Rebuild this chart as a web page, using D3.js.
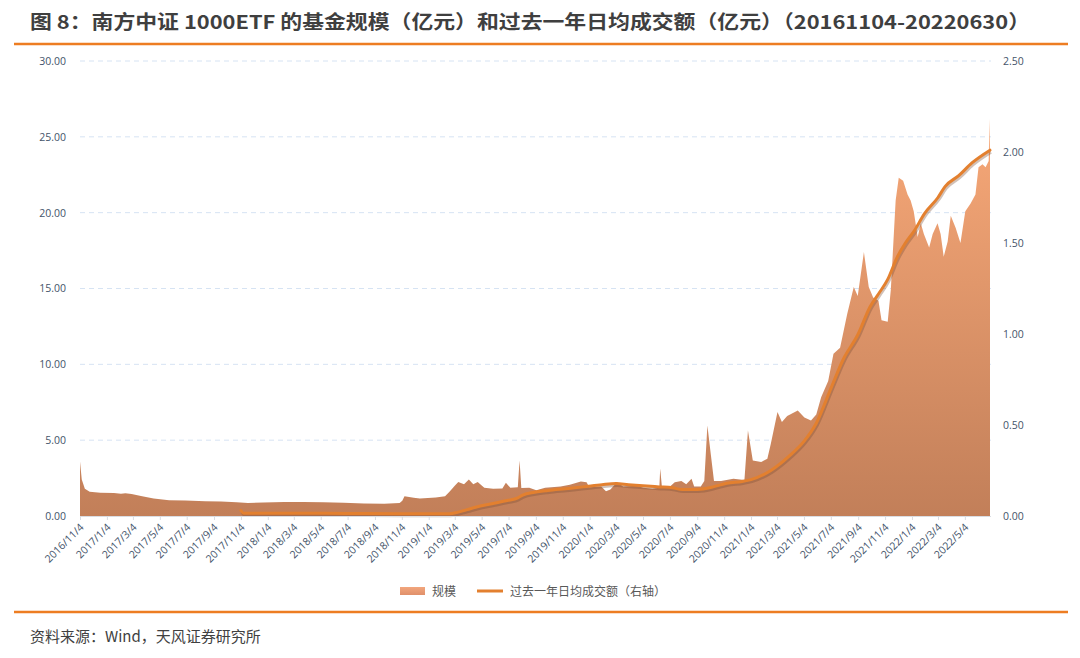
<html>
<head>
<meta charset="utf-8">
<title>南方中证1000ETF 规模与成交额</title>
<style>
  body { margin:0; padding:0; background:#fff; }
  svg { display:block; }
  .tick text { fill:#44546a; font-family:"Open Sans", "Liberation Sans", sans-serif; font-size:10.5px; }
  .grid line { stroke:#d6e3f3; stroke-dasharray:5,4; stroke-width:1; }
</style>
</head>
<body>
<svg width="1080" height="658"></svg>
<script src="https://cdn.jsdelivr.net/npm/d3@7/dist/d3.min.js"></script>
<script>

// 规模（亿元）
var scaleDates = ["2016-11-04","2016-11-08","2016-11-15","2016-11-26","2016-12-20","2017-01-20","2017-02-05","2017-02-15","2017-03-01","2017-03-25",
  "2017-04-20","2017-05-25","2017-07-01","2017-08-15","2017-09-20","2017-10-25","2017-11-20","2017-12-25","2018-02-10","2018-03-25",
  "2018-05-10","2018-06-25","2018-08-10","2018-09-25","2018-10-30","2018-11-05","2018-11-10","2018-12-01","2018-12-15","2019-01-20",
  "2019-02-10","2019-02-20","2019-03-04","2019-03-12","2019-03-25","2019-04-05","2019-04-15","2019-04-25","2019-05-10","2019-05-30",
  "2019-06-20","2019-06-28","2019-07-08","2019-07-25","2019-07-29","2019-08-02","2019-08-20","2019-09-05","2019-09-25","2019-10-30",
  "2019-11-20","2019-12-15","2019-12-28","2020-01-03","2020-01-30","2020-02-10","2020-02-20","2020-03-06","2020-03-20","2020-04-20",
  "2020-05-05","2020-05-25","2020-06-10","2020-06-12","2020-06-16","2020-07-01","2020-07-15","2020-07-30","2020-08-10","2020-08-22",
  "2020-08-28","2020-09-12","2020-09-20","2020-09-27","2020-10-05","2020-10-12","2020-10-28","2020-11-25","2020-12-20","2020-12-28",
  "2021-01-08","2021-01-27","2021-02-10","2021-02-18","2021-03-05","2021-03-15","2021-03-27","2021-04-20","2021-05-05","2021-05-20",
  "2021-06-01","2021-06-12","2021-06-28","2021-07-10","2021-07-25","2021-08-10","2021-08-25","2021-09-03","2021-09-17","2021-09-28",
  "2021-10-08","2021-10-20","2021-10-27","2021-11-10","2021-11-17","2021-11-28","2021-12-05","2021-12-15","2021-12-25","2022-01-01",
  "2022-01-08","2022-01-17","2022-01-24","2022-01-31","2022-02-12","2022-02-20","2022-03-03","2022-03-10","2022-03-17","2022-03-26",
  "2022-04-02","2022-04-13","2022-04-24","2022-05-05","2022-05-17","2022-05-28","2022-06-04","2022-06-13","2022-06-20","2022-06-27",
  "2022-06-29","2022-06-30"];
var scaleVals = [3.6,2.4,1.8,1.6,1.53,1.52,1.46,1.5,1.45,1.3,
  1.15,1.04,1.02,0.98,0.95,0.9,0.85,0.89,0.93,0.93,
  0.9,0.87,0.83,0.8,0.85,1.0,1.3,1.2,1.15,1.22,
  1.3,1.6,2.0,2.25,2.1,2.4,2.1,2.25,1.86,1.8,
  1.82,2.2,1.86,1.9,3.66,1.85,1.86,1.7,1.86,1.95,
  2.06,2.27,2.23,1.9,1.95,1.64,1.75,2.23,1.95,2.0,
  1.86,1.8,1.86,3.13,1.86,1.86,2.23,2.3,2.1,2.45,
  1.95,1.95,2.3,5.97,4.0,2.3,2.3,2.45,2.37,5.64,
  3.66,3.56,3.77,4.78,6.85,6.19,6.6,6.96,6.5,6.3,
  6.7,7.83,8.9,10.7,11.1,13.3,15.1,14.5,17.4,15.1,
  14.4,14.2,12.9,12.8,14.9,20.8,22.3,22.1,21.2,20.8,
  20.1,18.4,19.3,18.6,17.7,18.6,19.3,18.6,17.1,18.1,
  19.8,19.0,18.0,20.1,20.6,21.2,23.0,23.2,23.0,23.4,
  26.2,24.0];

// 过去一年日均成交额（亿元，右轴）
var volDates = ["2017-11-04","2017-11-10","2018-03-01","2018-07-01","2018-11-01","2019-01-01","2019-02-20","2019-03-10","2019-04-01","2019-05-01",
  "2019-06-01","2019-07-01","2019-07-25","2019-08-05","2019-09-01","2019-10-01","2019-11-10","2019-12-20","2020-02-01","2020-03-04",
  "2020-04-01","2020-05-04","2020-06-10","2020-07-10","2020-08-01","2020-09-04","2020-10-10","2020-11-10","2020-12-15","2021-01-04",
  "2021-02-18","2021-04-01","2021-05-04","2021-06-01","2021-07-04","2021-08-01","2021-09-04","2021-10-01","2021-10-20","2021-11-10",
  "2021-12-01","2021-12-20","2022-01-10","2022-02-01","2022-03-04","2022-03-20","2022-04-20","2022-05-20","2022-06-30"];
var volVals = [0.03,0.015,0.015,0.014,0.012,0.012,0.012,0.02,0.035,0.055,
  0.07,0.085,0.1,0.115,0.13,0.14,0.15,0.16,0.172,0.178,
  0.172,0.166,0.16,0.155,0.145,0.146,0.16,0.18,0.19,0.2,
  0.25,0.33,0.41,0.51,0.7,0.86,1.0,1.15,1.22,1.3,
  1.42,1.5,1.57,1.66,1.75,1.81,1.87,1.94,2.01];

var leftTicks = [0, 5, 10, 15, 20, 25, 30];
var rightTicks = [0, 0.5, 1, 1.5, 2, 2.5];
var xTickLabels = ["2016/11/4","2017/1/4","2017/3/4","2017/5/4","2017/7/4","2017/9/4","2017/11/4","2018/1/4","2018/3/4","2018/5/4",
  "2018/7/4","2018/9/4","2018/11/4","2019/1/4","2019/3/4","2019/5/4","2019/7/4","2019/9/4","2019/11/4","2020/1/4",
  "2020/3/4","2020/5/4","2020/7/4","2020/9/4","2020/11/4","2021/1/4","2021/3/4","2021/5/4","2021/7/4","2021/9/4",
  "2021/11/4","2022/1/4","2022/3/4","2022/5/4"];

var parseIso = d3.timeParse("%Y-%m-%d");
var parseTick = d3.timeParse("%Y/%m/%d");
var fmtTick = d3.timeFormat("%Y/%-m/%-d");

var scaleData = scaleDates.map(function(d, i) { return {date: parseIso(d), v: scaleVals[i]}; });
var volData = volDates.map(function(d, i) { return {date: parseIso(d), v: volVals[i]}; });
var tickDates = xTickLabels.map(function(s) { return parseTick(s); });

var svg = d3.select("svg");
var cjk = '"Noto Sans CJK SC", sans-serif';

var plotL = 80, plotR = 990, plotT = 61, plotB = 516;

var x = d3.scaleTime().domain([parseIso("2016-11-04"), parseIso("2022-06-30")]).range([plotL, plotR]);
var yL = d3.scaleLinear().domain([0, 30]).range([plotB, plotT]);
var yR = d3.scaleLinear().domain([0, 2.5]).range([plotB, plotT]);

// title + rules
svg.append("text")
  .attr("x", 30).attr("y", 29)
  .style("font-family", cjk).style("font-weight", "bold").style("font-size", "19px")
  .style("fill", "#3f3f3f")
  .attr("textLength", 1000).attr("lengthAdjust", "spacingAndGlyphs")
  .text("图 8：南方中证 1000ETF 的基金规模（亿元）和过去一年日均成交额（亿元）（20161104-20220630）");

svg.append("line").attr("x1", 14).attr("x2", 1068).attr("y1", 44).attr("y2", 44)
  .style("stroke", "#ed7d22").style("stroke-width", 2.5);
svg.append("line").attr("x1", 14).attr("x2", 1068).attr("y1", 612).attr("y2", 612)
  .style("stroke", "#ed7d22").style("stroke-width", 2.5);

svg.append("text")
  .attr("x", 30).attr("y", 642)
  .style("font-family", cjk).style("font-size", "15px").style("fill", "#404040")
  .text("资料来源：Wind，天风证券研究所");

// gradient
var defs = svg.append("defs");
var grad = defs.append("linearGradient").attr("id", "areaGrad")
  .attr("gradientUnits", "userSpaceOnUse")
  .attr("x1", 0).attr("x2", 0).attr("y1", yL(0)).attr("y2", yL(26.2));
grad.append("stop").attr("offset", "0%").attr("stop-color", "#c27f59");
grad.append("stop").attr("offset", "100%").attr("stop-color", "#f7a878");

var legGrad = defs.append("linearGradient").attr("id", "legGrad")
  .attr("x1", 0).attr("x2", 0).attr("y1", 1).attr("y2", 0);
legGrad.append("stop").attr("offset", "0%").attr("stop-color", "#e0906a");
legGrad.append("stop").attr("offset", "100%").attr("stop-color", "#f2a67d");

// grid
svg.append("g").attr("class", "grid")
  .selectAll("line").data(leftTicks.filter(function(d) { return d > 0; })).enter()
  .append("line")
  .attr("x1", plotL).attr("x2", plotR + 1)
  .attr("y1", function(d) { return yL(d); }).attr("y2", function(d) { return yL(d); });

// area
var area = d3.area()
  .x(function(d) { return x(d.date); })
  .y0(yL(0))
  .y1(function(d) { return yL(d.v); });

svg.append("path").datum(scaleData)
  .attr("d", area)
  .style("fill", "url(#areaGrad)");

// line with a soft shadow
var line = d3.line()
  .x(function(d) { return x(d.date); })
  .y(function(d) { return yR(d.v); })
  .curve(d3.curveMonotoneX);

svg.append("path").datum(volData)
  .attr("d", line)
  .attr("transform", "translate(1,2)")
  .style("fill", "none").style("stroke", "#7a4e33").style("stroke-opacity", 0.35)
  .style("stroke-width", 3);

svg.append("path").datum(volData)
  .attr("d", line)
  .style("fill", "none").style("stroke", "#e3802f").style("stroke-width", 3)
  .style("stroke-linejoin", "round").style("stroke-linecap", "round");

// axes
var axL = svg.append("g").attr("transform", "translate(" + (plotL - 4) + ",0)")
  .call(d3.axisLeft(yL).tickValues(leftTicks).tickFormat(d3.format(".2f")).tickSize(0));
axL.select(".domain").remove();
axL.selectAll("text").attr("x", -10);

var axR = svg.append("g").attr("transform", "translate(" + (plotR + 2) + ",0)")
  .call(d3.axisRight(yR).tickValues(rightTicks).tickFormat(d3.format(".2f")).tickSize(0));
axR.select(".domain").remove();
axR.selectAll("text").attr("x", 11);

var axB = svg.append("g").attr("transform", "translate(0," + plotB + ")")
  .call(d3.axisBottom(x).tickValues(tickDates).tickFormat(fmtTick).tickSize(4).tickSizeOuter(0));
axB.select(".domain").attr("d", "M" + plotL + ",0.5H" + (plotR + 1)).style("stroke", "#d9dde3");
axB.selectAll(".tick line").style("stroke", "#d9dde3");
axB.selectAll("text")
  .style("text-anchor", "end")
  .attr("y", 0).attr("dx", 0).attr("dy", 0)
  .attr("transform", "translate(4,12) rotate(-45)");

// legend
var lg = svg.append("g").attr("transform", "translate(0,591)");
lg.append("rect").attr("x", 400).attr("y", -4).attr("width", 25).attr("height", 8)
  .style("fill", "url(#legGrad)");
lg.append("text").attr("x", 432).attr("y", 4.5)
  .style("font-family", cjk).style("font-size", "12px").style("fill", "#595959")
  .text("规模");
lg.append("line").attr("x1", 477).attr("x2", 503).attr("y1", 0).attr("y2", 0)
  .style("stroke", "#e3802f").style("stroke-width", 3);
lg.append("text").attr("x", 510).attr("y", 4.5)
  .style("font-family", cjk).style("font-size", "12px").style("fill", "#595959")
  .text("过去一年日均成交额（右轴）");

</script>
</body>
</html>
